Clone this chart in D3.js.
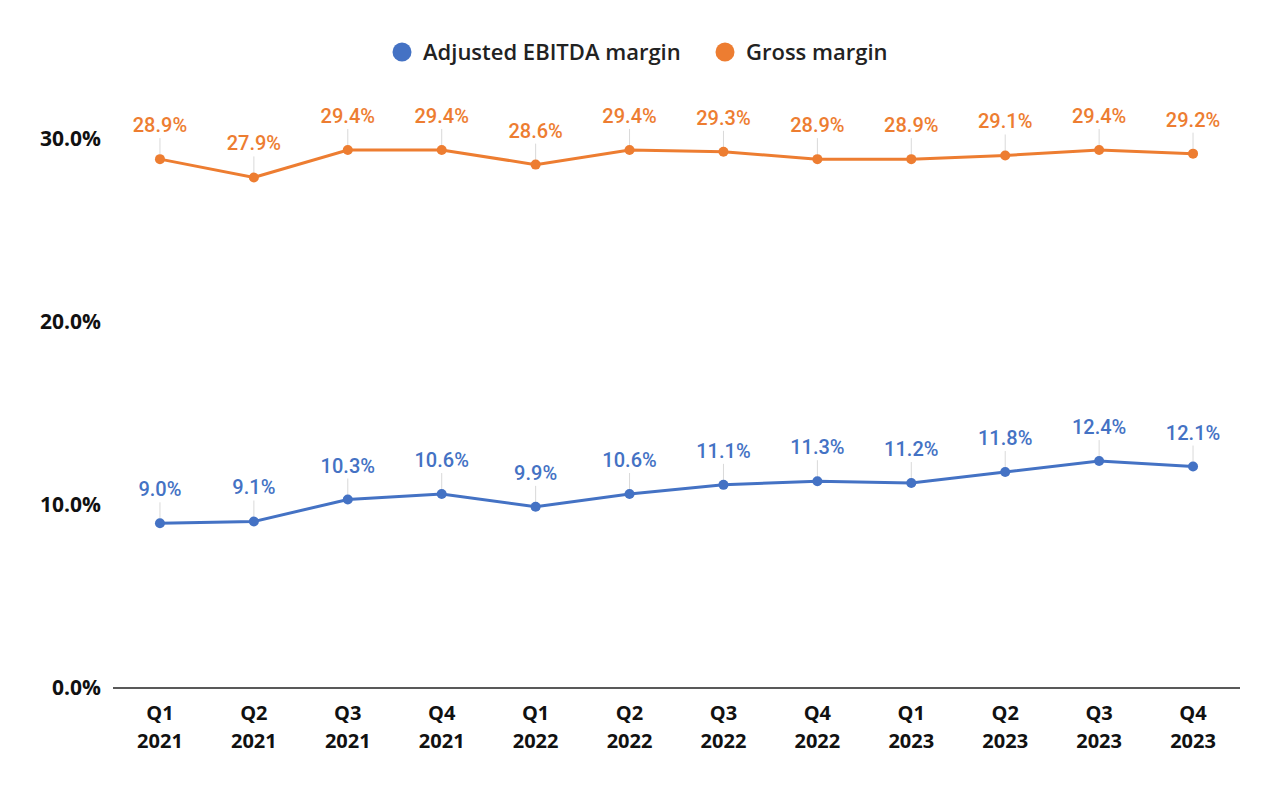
<!DOCTYPE html>
<html>
<head>
<meta charset="utf-8">
<script src="https://cdn.jsdelivr.net/npm/d3@7"></script>
<style>
  body { margin: 0; background: #fff; }
</style>
</head>
<body>
<div id="chart"></div>
<script>
// quarters shown on the x axis (two lines each)
const quarters = ["Q1", "Q2", "Q3", "Q4", "Q1", "Q2", "Q3", "Q4", "Q1", "Q2", "Q3", "Q4"];
const years = ["2021", "2021", "2021", "2021", "2022", "2022", "2022", "2022", "2023", "2023", "2023", "2023"];

// series values in percent
const ebitdaMargin = [9.0, 9.1, 10.3, 10.6, 9.9, 10.6, 11.1, 11.3, 11.2, 11.8, 12.4, 12.1];
const grossMargin = [28.9, 27.9, 29.4, 29.4, 28.6, 29.4, 29.3, 28.9, 28.9, 29.1, 29.4, 29.2];

const yTicks = [0, 10, 20, 30];

const width = 1280, height = 792;
const margin = {top: 139, right: 40, bottom: 104, left: 113};

const svg = d3.select("#chart")
  .append("svg")
  .attr("width", width)
  .attr("height", height);

const keys = quarters.map((q, i) => i);

const x = d3.scaleBand()
  .domain(keys)
  .range([margin.left, width - margin.right]);

// 30% sits at the top tick, so map 0..30 to the plot height
const y = d3.scaleLinear()
  .domain([0, 30])
  .range([height - margin.bottom, margin.top]);

const cx = i => x(i) + x.bandwidth() / 2;

// y axis labels (no axis line)
svg.append("g")
  .attr("transform", `translate(${margin.left - 12},0)`)
  .call(d3.axisLeft(y).tickValues(yTicks).tickSize(0).tickFormat(d => d.toFixed(1) + "%"))
  .call(g => g.select(".domain").remove())
  .selectAll("text")
  .attr("x", 0)
  .style("font-family", "'Open Sans', sans-serif")
  .style("font-weight", "bold")
  .style("font-size", "21px")
  .style("fill", "#111");

// baseline
svg.append("line")
  .attr("x1", margin.left)
  .attr("x2", width - margin.right)
  .attr("y1", y(0))
  .attr("y2", y(0))
  .attr("stroke", "#222")
  .attr("stroke-width", 1.3);

// x tick labels, two separate lines
const xLab = svg.append("g")
  .style("font-family", "'Open Sans', sans-serif")
  .style("font-weight", "bold")
  .style("font-size", "20px")
  .style("fill", "#111");

xLab.selectAll("text.q")
  .data(keys)
  .join("text")
  .attr("class", "q")
  .attr("x", i => cx(i))
  .attr("y", 720)
  .attr("text-anchor", "middle")
  .text(i => quarters[i]);

xLab.selectAll("text.yr")
  .data(keys)
  .join("text")
  .attr("class", "yr")
  .attr("x", i => cx(i))
  .attr("y", 748)
  .attr("text-anchor", "middle")
  .text(i => years[i]);

const series = [
  {name: "Adjusted EBITDA margin", values: ebitdaMargin, color: "#4472C4"},
  {name: "Gross margin", values: grossMargin, color: "#ED7D31"}
];

const line = d3.line()
  .x((d, i) => cx(i))
  .y(d => y(d));

series.forEach(s => {
  // leader lines from label down to point
  svg.append("g")
    .selectAll("line")
    .data(s.values)
    .join("line")
    .attr("x1", (d, i) => cx(i))
    .attr("x2", (d, i) => cx(i))
    .attr("y1", d => y(d) - 21)
    .attr("y2", d => y(d))
    .attr("stroke", "#d9d9d9")
    .attr("stroke-width", 1);

  svg.append("path")
    .datum(s.values)
    .attr("fill", "none")
    .attr("stroke", s.color)
    .attr("stroke-width", 3)
    .attr("d", line);

  svg.append("g")
    .selectAll("circle")
    .data(s.values)
    .join("circle")
    .attr("cx", (d, i) => cx(i))
    .attr("cy", d => y(d))
    .attr("r", 5)
    .attr("fill", s.color);

  svg.append("g")
    .selectAll("text")
    .data(s.values)
    .join("text")
    .attr("x", (d, i) => cx(i))
    .attr("y", d => y(d) - 27)
    .attr("text-anchor", "middle")
    .style("font-family", "Roboto, sans-serif")
    .style("font-weight", "500")
    .style("font-size", "20px")
    .style("fill", s.color)
    .text(d => d.toFixed(1) + "%");
});

// legend
const legendItems = [
  {name: series[0].name, color: series[0].color, x: 402},
  {name: series[1].name, color: series[1].color, x: 725}
];
const legend = svg.append("g")
  .selectAll("g")
  .data(legendItems)
  .join("g")
  .attr("transform", d => `translate(${d.x},52)`);

legend.append("circle")
  .attr("r", 9.5)
  .attr("fill", d => d.color);

legend.append("text")
  .attr("x", 21)
  .attr("dy", "0.35em")
  .style("font-family", "'Open Sans', sans-serif")
  .style("font-weight", "600")
  .style("font-size", "22px")
  .style("fill", "#222")
  .text(d => d.name);
</script>
</body>
</html>
